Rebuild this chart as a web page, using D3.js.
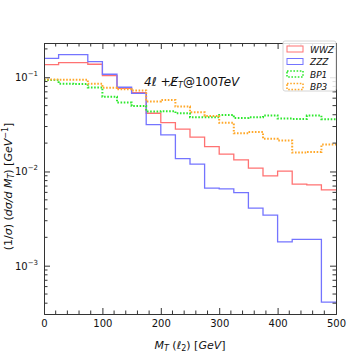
<!DOCTYPE html>
<html>
<head>
<meta charset="utf-8">
<script src="https://cdn.jsdelivr.net/npm/d3@7"></script>
<style>
  body { margin: 0; background: #fff; }
  text { font-family: "DejaVu Sans", sans-serif; fill: #111; }
</style>
</head>
<body>
<div id="chart"></div>
<script>
// bin lower edges in GeV (25 GeV bins)
const binEdges = [0, 25, 50, 75, 100, 125, 150, 175, 200, 225, 250, 275, 300, 325, 350, 375, 400, 425, 450, 475];
const xMax = 500;

// normalised distributions
const wwz = [0.136, 0.1428, 0.1428, 0.1374, 0.104, 0.0764, 0.0687, 0.0415, 0.033, 0.0281,
             0.0231, 0.01836, 0.01526, 0.01328, 0.01084, 0.00898, 0.01007, 0.00733, 0.00721, 0.00638];
const zzz = [0.159, 0.1737, 0.1737, 0.1464, 0.1076, 0.0783, 0.0676, 0.0314, 0.0244, 0.01371,
             0.01195, 0.00665, 0.00654, 0.00597, 0.00408, 0.00344, 0.00179, 0.0019, 0.0019, 0.000411];
const bp1 = [0.0936, 0.0855, 0.0849, 0.078, 0.0622, 0.0538, 0.0496, 0.0434, 0.0436, 0.0415,
             0.0376, 0.0376, 0.0398, 0.037, 0.0376, 0.0392, 0.0364, 0.0361, 0.0392, 0.0359];
const bp3 = [0.0948, 0.0943, 0.0943, 0.0853, 0.0774, 0.0746, 0.0724, 0.0554, 0.0574, 0.0488,
             0.0425, 0.0389, 0.0328, 0.0255, 0.0263, 0.0222, 0.0213, 0.01585, 0.01614, 0.0193];

const seriesNames = ["WWZ", "ZZZ", "BP1", "BP3"];
const xTicks = [0, 100, 200, 300, 400, 500];
const yTicks = [1e-3, 1e-2, 1e-1];

const width = 354, height = 354;
const margin = { left: 44, right: 18, top: 43, bottom: 40 };

const svg = d3.select("#chart").append("svg")
    .attr("width", width)
    .attr("height", height);

const x = d3.scaleLinear().domain([0, xMax]).range([margin.left, width - margin.right]);
const y = d3.scaleLog().domain([3.07e-4, 0.231]).range([height - margin.bottom, margin.top]);

const styles = {
    WWZ: { color: "#ff7272", width: 1.3, dash: null, data: wwz },
    ZZZ: { color: "#7474ff", width: 1.3, dash: null, data: zzz },
    BP1: { color: "#2ee82e", width: 2, dash: "1.6,1.6", data: bp1 },
    BP3: { color: "#ffa82a", width: 2, dash: "1.6,1.6", data: bp3 }
};

const line = d3.line()
    .x(d => x(d[0]))
    .y(d => y(d[1]))
    .curve(d3.curveStepAfter);

svg.append("clipPath").attr("id", "clip")
    .append("rect")
    .attr("x", x(0)).attr("y", y.range()[1])
    .attr("width", x(xMax) - x(0))
    .attr("height", y.range()[0] - y.range()[1]);

const plot = svg.append("g").attr("clip-path", "url(#clip)");

seriesNames.forEach(name => {
    const s = styles[name];
    const pts = binEdges.map((e, i) => [e, s.data[i]]);
    pts.push([xMax, s.data[s.data.length - 1]]);
    plot.append("path")
        .attr("d", line(pts))
        .attr("fill", "none")
        .attr("stroke", s.color)
        .attr("stroke-width", s.width)
        .attr("stroke-dasharray", s.dash);
});

// axes, ticks pointing inside on all four sides
const xAxisB = d3.axisBottom(x).tickValues(xTicks).tickSize(-6).tickPadding(6);
const xAxisT = d3.axisTop(x).tickValues(xTicks).tickSize(-6).tickFormat("");
const yAxisL = d3.axisLeft(y).tickValues(yTicks).tickSize(-6).tickPadding(6).tickFormat("");
const yAxisR = d3.axisRight(y).tickValues(yTicks).tickSize(-6).tickFormat("");

const gxB = svg.append("g").attr("transform", `translate(0,${y.range()[0]})`).call(xAxisB);
const gxT = svg.append("g").attr("transform", `translate(0,${y.range()[1]})`).call(xAxisT);
const gyL = svg.append("g").attr("transform", `translate(${x(0)},0)`).call(yAxisL);
const gyR = svg.append("g").attr("transform", `translate(${x(xMax)},0)`).call(yAxisR);

[gxB, gxT, gyL, gyR].forEach(g => {
    g.select(".domain").attr("stroke", "#333").attr("stroke-width", 1);
    g.selectAll(".tick line").attr("stroke", "#333");
    g.selectAll("text").style("font-size", "10px").attr("fill", "#111");
});

// minor ticks
const minorX = d3.range(0, xMax + 1, 20).filter(v => v % 100 !== 0);
[y.range()[0], y.range()[1]].forEach((yy, k) => {
    svg.append("g").selectAll("line").data(minorX).join("line")
        .attr("x1", d => x(d)).attr("x2", d => x(d))
        .attr("y1", yy).attr("y2", k === 0 ? yy - 3.5 : yy + 3.5)
        .attr("stroke", "#333");
});
const minorY = [];
[1e-4, 1e-3, 1e-2, 1e-1].forEach(dec => {
    for (let m = 2; m <= 9; m++) {
        const v = dec * m;
        if (v > y.domain()[0] && v < y.domain()[1]) minorY.push(v);
    }
});
[x(0), x(xMax)].forEach((xx, k) => {
    svg.append("g").selectAll("line").data(minorY).join("line")
        .attr("x1", xx).attr("x2", k === 0 ? xx + 3.5 : xx - 3.5)
        .attr("y1", d => y(d)).attr("y2", d => y(d))
        .attr("stroke", "#333");
});

// y tick labels as 10^n
const yLab = svg.append("g");
yTicks.forEach(v => {
    const t = yLab.append("text")
        .attr("x", x(0) - 6)
        .attr("y", y(v) + 4)
        .attr("text-anchor", "end")
        .style("font-size", "10px");
    t.append("tspan").text("10");
    t.append("tspan").attr("dy", -5).style("font-size", "7px").text("\u2212" + Math.round(-Math.log10(v)));
});

// axis titles
const xl = svg.append("text")
    .attr("x", 190).attr("y", 349)
    .attr("text-anchor", "middle")
    .style("font-size", "11px");
xl.append("tspan").style("font-style", "italic").text("M");
xl.append("tspan").attr("dy", 2).style("font-size", "8px").style("font-style", "italic").text("T");
xl.append("tspan").attr("dy", -2).text(" (");
xl.append("tspan").style("font-style", "italic").text("\u2113");
xl.append("tspan").attr("dy", 2).style("font-size", "8px").text("2");
xl.append("tspan").attr("dy", -2).text(") [");
xl.append("tspan").style("font-style", "italic").text("GeV");
xl.append("tspan").text("]");

const yl = svg.append("text")
    .attr("transform", `translate(12,${(y.range()[0] + y.range()[1]) / 2 + 8}) rotate(-90)`)
    .attr("text-anchor", "middle")
    .style("font-size", "11px");
yl.append("tspan").text("(1/");
yl.append("tspan").style("font-style", "italic").text("\u03c3");
yl.append("tspan").text(") (");
yl.append("tspan").style("font-style", "italic").text("d\u03c3/d M");
yl.append("tspan").attr("dy", 2).style("font-size", "8px").style("font-style", "italic").text("T");
yl.append("tspan").attr("dy", -2).text(") [");
yl.append("tspan").style("font-style", "italic").text("GeV");
yl.append("tspan").attr("dy", -4).style("font-size", "8px").text("\u22121");
yl.append("tspan").attr("dy", 4).text("]");

// annotation
const ann = svg.append("text")
    .attr("x", 144).attr("y", 86)
    .style("font-size", "12px");
ann.append("tspan").style("font-style", "italic").text("4\u2113");
ann.append("tspan").text(" +");
ann.append("tspan").style("font-style", "italic").text("E\u0338");
ann.append("tspan").attr("dy", 2).style("font-size", "8px").style("font-style", "italic").text("T");
ann.append("tspan").attr("dy", -2).text("@100");
ann.append("tspan").style("font-style", "italic").text("TeV");

// legend
const lg = svg.append("g");
lg.append("rect")
    .attr("x", 283).attr("y", 41).attr("width", 53).attr("height", 50)
    .attr("fill", "#fff").attr("fill-opacity", 0.85)
    .attr("stroke", "#ccc").attr("stroke-width", 0.8).attr("rx", 2);
seriesNames.forEach((name, i) => {
    const s = styles[name];
    const cy = 49 + i * 12.5;
    lg.append("rect")
        .attr("x", 287).attr("y", cy - 3).attr("width", 16).attr("height", 6)
        .attr("fill", "none")
        .attr("stroke", s.color)
        .attr("stroke-width", s.dash ? 1.6 : 1)
        .attr("stroke-dasharray", s.dash);
    lg.append("text")
        .attr("x", 310).attr("y", cy + 3.5)
        .style("font-size", "9px").style("font-style", "italic")
        .text(name);
});
</script>
</body>
</html>
